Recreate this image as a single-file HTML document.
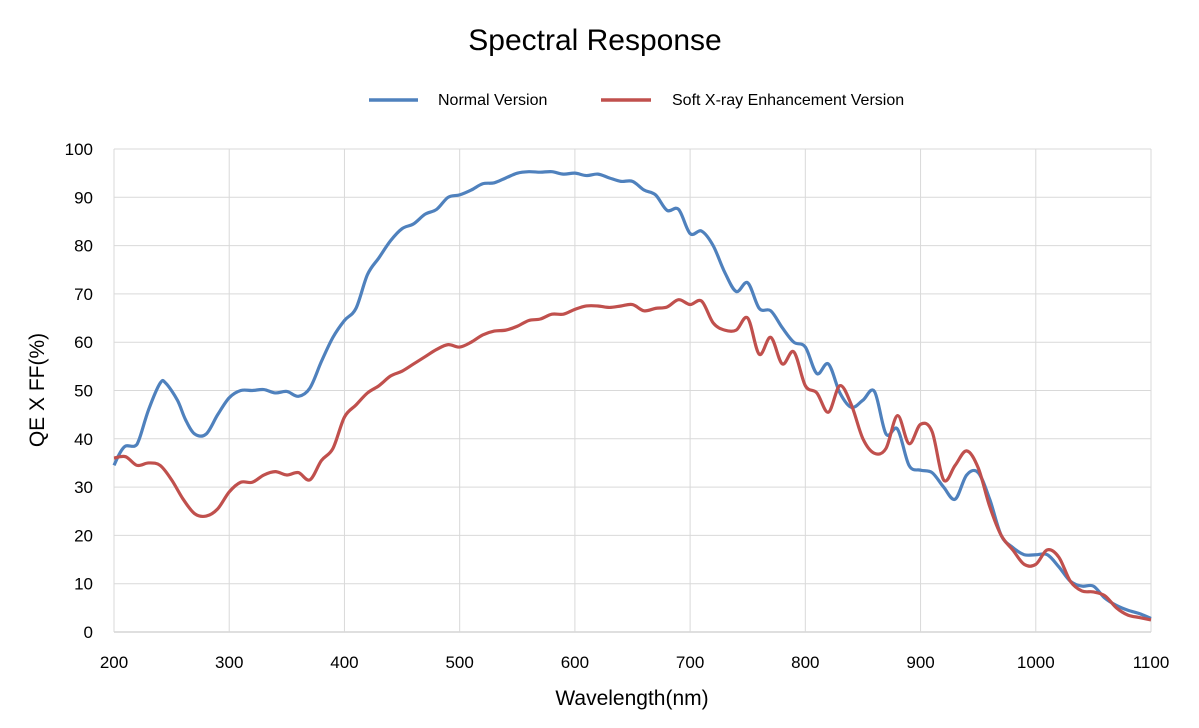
<!DOCTYPE html>
<html><head><meta charset="utf-8"><style>
html,body{margin:0;padding:0;background:#fff;}
svg text{font-family:"Liberation Sans",sans-serif;fill:#000;}
</style></head><body>
<svg id="s" width="1199" height="723" xmlns="http://www.w3.org/2000/svg">
<text x="595" y="50" font-size="30" text-anchor="middle">Spectral Response</text>
<line x1="369" y1="100" x2="418" y2="100" stroke="#4f81bd" stroke-width="3.5"/>
<text x="438" y="105" font-size="16">Normal Version</text>
<line x1="601" y1="100" x2="651" y2="100" stroke="#c0504d" stroke-width="3.5"/>
<text x="672" y="105" font-size="16">Soft X-ray Enhancement Version</text>
<g id="grid" stroke="#d9d9d9" stroke-width="1"></g>
<g id="lab" font-size="17"></g>
<text x="632" y="705" font-size="21" text-anchor="middle">Wavelength(nm)</text>
<text transform="translate(44,390) rotate(-90)" font-size="21" text-anchor="middle">QE X FF(%)</text>
<path id="b" fill="none" stroke="#4f81bd" stroke-width="3.2" stroke-linejoin="round"/>
<path id="r" fill="none" stroke="#c0504d" stroke-width="3.2" stroke-linejoin="round"/>
</svg>
<script>
var X=function(n){return 114+(n-200)*1037/900},Y=function(v){return 632-v*4.83};
var g=document.getElementById('grid'),l=document.getElementById('lab'),ns='http://www.w3.org/2000/svg';
function el(p,t,a,txt){var e=document.createElementNS(ns,t);for(var k in a)e.setAttribute(k,a[k]);if(txt!=null)e.textContent=txt;p.appendChild(e);}
for(var v=0;v<=100;v+=10){el(g,'line',{x1:114,x2:1151,y1:Y(v),y2:Y(v),stroke:v==0?'#bfbfbf':'#d9d9d9'});el(l,'text',{x:93,y:Y(v)+6,'text-anchor':'end'},v);}
for(var n=200;n<=1100;n+=100){el(g,'line',{x1:X(n),x2:X(n),y1:Y(100),y2:Y(0)});el(l,'text',{x:X(n),y:668,'text-anchor':'middle'},n);}
var B=[200,34.5,205,37,210,38.5,218,38.5,222,40,230,46,240,51.5,245,51.5,255,48,262,44,270,41,280,41,290,45,300,48.5,310,50,320,50,330,50.2,340,49.5,350,49.8,360,48.8,370,50.5,380,56,390,61,400,64.5,410,67,420,74,430,77.5,440,81,450,83.5,460,84.5,470,86.5,480,87.5,490,90,500,90.5,510,91.5,520,92.8,530,93,540,94,550,95,560,95.3,570,95.2,580,95.3,590,94.8,600,95,610,94.5,620,94.8,630,94,640,93.3,650,93.3,660,91.5,670,90.5,680,87.3,690,87.5,700,82.5,710,83,720,80,730,74.5,740,70.5,750,72.3,760,67,770,66.5,780,63,790,60,800,59,810,53.5,820,55.5,830,49.5,840,46.5,850,48,860,49.8,870,41,880,42,890,34.5,900,33.5,910,33,920,30,930,27.5,940,32.5,950,33,960,27.5,970,20,980,17.5,990,16,1000,16,1010,16,1020,13.5,1030,10.5,1040,9.5,1050,9.5,1060,7,1070,5.5,1080,4.5,1090,3.8,1100,2.8];
var R=[200,36,210,36.3,220,34.5,230,35,240,34.5,250,31.5,260,27.5,270,24.5,280,24,290,25.5,300,29,310,31,320,31,330,32.5,340,33.2,350,32.5,360,33,370,31.5,380,35.5,390,38,400,44.5,410,47,420,49.5,430,51,440,53,450,54,460,55.5,470,57,480,58.5,490,59.5,500,59,510,60,520,61.5,530,62.3,540,62.5,550,63.3,560,64.5,570,64.8,580,65.8,590,65.8,600,66.8,610,67.5,620,67.5,630,67.2,640,67.5,650,67.8,660,66.5,670,67,680,67.3,690,68.8,700,67.8,710,68.5,720,64,730,62.5,740,62.5,750,65,760,57.5,770,61,780,55.5,790,58,800,51,810,49.5,820,45.5,830,51,840,47,850,40,860,37,870,38,880,44.8,890,39,900,43,910,41.5,920,31.5,930,34.5,940,37.5,950,34,960,26,970,20,980,17,990,14,1000,14,1010,17,1020,15.5,1030,10.5,1040,8.5,1050,8.3,1060,7.5,1070,5,1080,3.5,1090,3,1100,2.5];
function path(a){var p=[];for(var i=0;i<a.length;i+=2)p.push([X(a[i]),Y(a[i+1])]);
var d='M'+p[0][0]+','+p[0][1];for(var i=0;i<p.length-1;i++){var p0=p[i-1]||p[i],p1=p[i],p2=p[i+1],p3=p[i+2]||p2;
d+=' C'+(p1[0]+(p2[0]-p0[0])/6)+','+(p1[1]+(p2[1]-p0[1])/6)+' '+(p2[0]-(p3[0]-p1[0])/6)+','+(p2[1]-(p3[1]-p1[1])/6)+' '+p2[0]+','+p2[1];}return d;}
document.getElementById('b').setAttribute('d',path(B));
document.getElementById('r').setAttribute('d',path(R));
</script>
</body></html>
